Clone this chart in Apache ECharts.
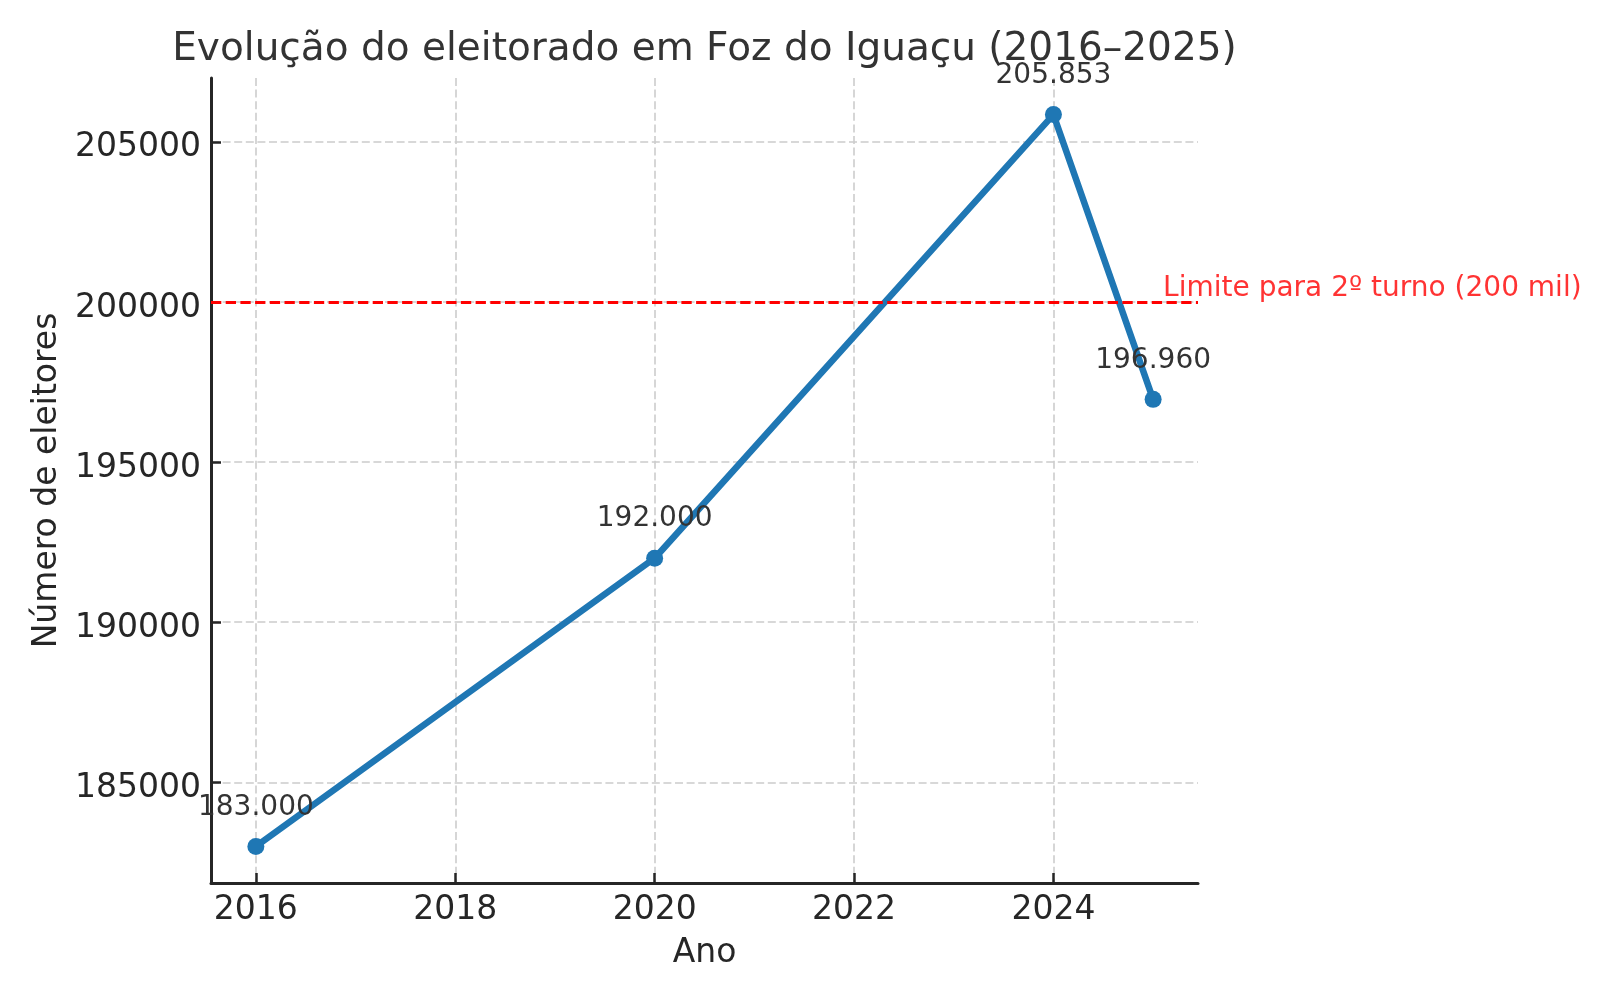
<!DOCTYPE html>
<html><head><meta charset="utf-8">
<script src="https://cdn.jsdelivr.net/npm/echarts@6/dist/echarts.min.js"></script>
<style>html,body{margin:0;padding:0;background:#fff}#c{width:1600px;height:1000px}</style>
</head><body><div id="c"></div>
<script>
const years = [2016, 2020, 2024, 2025];
const voters = [183000, 192000, 205853, 196960];
const xTicks = [2016, 2018, 2020, 2022, 2024];
const yTicks = [185000, 190000, 195000, 200000, 205000];
const limitValue = 200000;
const limitLabel = 'Limite para 2º turno (200 mil)';
const titleText = 'Evolução do eleitorado em Foz do Iguaçu (2016–2025)';
const xName = 'Ano';
const yName = 'Número de eleitores';

const FONT = 'DejaVu Sans';
const fmt = v => String(v).replace(/\B(?=(\d{3})+(?!\d))/g, '.');
const xSpan = Math.max(...years) - Math.min(...years);
const ySpan = Math.max(...voters) - Math.min(...voters);
const xMin = Math.min(...years) - 0.05 * xSpan, xMax = Math.max(...years) + 0.05 * xSpan;
const yMin = Math.min(...voters) - 0.05 * ySpan, yMax = Math.max(...voters) + 0.05 * ySpan;

const gridLine = {show: true, lineStyle: {color: '#cccccc', width: 1.6, type: [8, 3.6]}};
const axisLineStyle = {show: true, onZero: false, lineStyle: {color: '#262626', width: 3}};

const chart = echarts.init(document.getElementById('c'), null, {renderer: 'canvas'});
chart.setOption({
  backgroundColor: '#fff',
  animation: false,
  title: {
    text: titleText, left: 699.5, top: 25, textAlign: 'center',
    textStyle: {fontFamily: FONT, fontSize: 39, fontWeight: 'normal', color: '#333333'}
  },
  grid: {left: 211, top: 78, width: 987, height: 805, containLabel: false},
  xAxis: {
    type: 'value', min: xMin, max: xMax,
    name: xName, nameLocation: 'middle', nameGap: 54,
    nameTextStyle: {fontFamily: FONT, fontSize: 33, color: '#262626'},
    axisLine: axisLineStyle,
    axisTick: {show: true, inside: true, length: 10, customValues: xTicks, lineStyle: {color: '#262626', width: 2.5}},
    axisLabel: {customValues: xTicks, formatter: v => String(v), fontFamily: FONT, fontSize: 33, color: '#262626', margin: 11},
    splitLine: gridLine
  },
  yAxis: {
    type: 'value', min: yMin, max: yMax,
    name: yName, nameLocation: 'middle', nameGap: 142,
    nameTextStyle: {fontFamily: FONT, fontSize: 33, color: '#262626'},
    axisLine: axisLineStyle,
    axisTick: {show: true, inside: true, length: 10, customValues: yTicks, lineStyle: {color: '#262626', width: 2.5}},
    axisLabel: {
      customValues: yTicks, formatter: v => '{t|' + v + '}', margin: 10,
      rich: {t: {fontFamily: FONT, fontSize: 33, color: '#262626', padding: [12, 0, 0, 0]}}
    },
    splitLine: gridLine
  },
  series: [
    {
      type: 'line',
      data: years.map((y, i) => [y, voters[i]]),
      lineStyle: {color: '#1f77b4', width: 6.5},
      itemStyle: {color: '#1f77b4'},
      symbol: 'circle', symbolSize: 17, showAllSymbol: true,
      label: {
        show: true, position: 'top', distance: 16.5,
        formatter: p => fmt(p.value[1]),
        fontFamily: FONT, fontSize: 28, color: '#333333'
      },
      markLine: {
        silent: true, symbol: ['none', 'none'],
        data: [{yAxis: limitValue}],
        lineStyle: {color: '#ff0000', width: 2.8, type: [10.3, 4.4]},
        label: {show: false}
      },
      z: 3
    },
    {
      type: 'scatter',
      data: [[2025.1, limitValue]],
      symbolSize: 0,
      label: {
        show: true, position: 'right', distance: 0, offset: [0, -13],
        formatter: limitLabel,
        fontFamily: FONT, fontSize: 28, color: '#ff0000'
      },
      z: 4
    }
  ]
});
</script></body></html>
